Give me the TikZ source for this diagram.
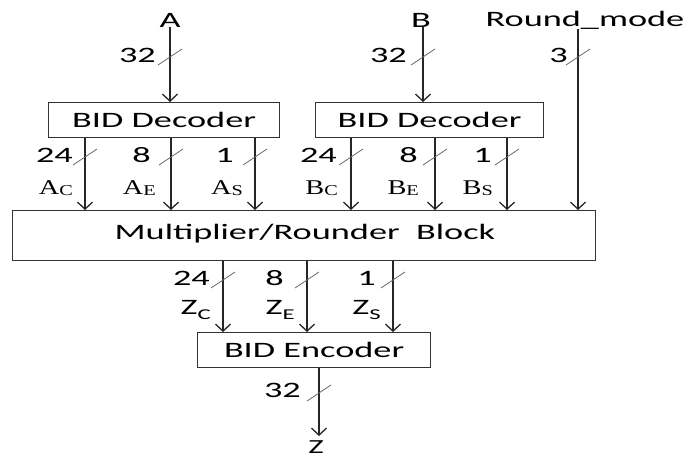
\documentclass[tikz,border=0pt]{standalone}
\usepackage{fontspec}
\setmainfont{Carlito}[FakeStretch=1.65]
\newfontfamily\lblfont{Liberation Serif}[FakeStretch=1.35]
\usetikzlibrary{arrows.meta}
\begin{document}
\begin{tikzpicture}[x=1pt,y=-1pt,
  font=\fontsize{22}{26}\selectfont,
  blk/.style={draw=black!80,line width=1.2pt,minimum height=35pt,inner sep=0pt,anchor=north west},
  sig/.style={draw=black!85,line width=1.3pt,-{Straight Barb[length=7pt,width=15pt,line width=1.3pt]}},
  busslash/.style={draw=black!60,line width=0.8pt},
  io/.style={inner sep=0pt},
  width/.style={inner sep=0pt,anchor=east},
  sublbl/.style={inner sep=0pt,anchor=east,font=\lblfont\fontsize{21}{24}\selectfont},
  zlbl/.style={inner sep=0pt,anchor=east}]
\useasboundingbox (0,0) rectangle (693,458);

% blocks
\node[blk,minimum width=231pt] (decA) at (48,102) {};
\node at (decA.center) {BID Decoder};
\node[blk,minimum width=228pt] (decB) at (315,102) {};
\node at (decB.center) {BID Decoder};
\node[blk,minimum width=583pt,minimum height=50pt] (mult) at (12,210) {};
\node at (305,234) {Multiplier/Rounder\ \ Block};
\node[blk,minimum width=233pt] (enc) at (197,332) {};
\node at (enc.center) {BID Encoder};

% primary inputs and output
\node[io] (inA) at (170,20) {A};
\node[io] (inB) at (421,20) {B};
\node[io] (inR) at (585,20) {Round\_mode};
\node[io,anchor=north,font=\fontsize{20}{24}\selectfont] (outZ) at (316,440) {Z};

\coordinate (xA) at (170,0);
\coordinate (xB) at (423,0);
\coordinate (xR) at (578,0);

\draw[sig] (inA.south -| xA) -- (decA.north -| xA);
\draw[sig] (inB.south -| xB) -- (decB.north -| xB);
\draw[sig] (inR.south -| xR) -- (mult.north -| xR);

% decoder A outputs
\foreach \x in {85,171,255}{
  \draw[sig] (decA.south -| \x,0) -- (mult.north -| \x,0);
}
% decoder B outputs
\foreach \x in {351,435,507}{
  \draw[sig] (decB.south -| \x,0) -- (mult.north -| \x,0);
}
% multiplier outputs
\foreach \x in {223,307,393}{
  \draw[sig] (mult.south -| \x,0) -- (enc.north -| \x,0);
}
% encoder output
\coordinate (xZ) at (319,0);
\draw[sig,shorten >=4pt] (enc.south -| xZ) -- (outZ.north -| xZ);

% bus width slashes
\foreach \x/\y in {170/57,423/57,578/57,
                   85/157,171/157,255/157,351/157,435/157,507/157,
                   223/280,307/280,393/280,319/393}{
  \draw[busslash] (\x-12,\y+8) -- (\x+12,\y-8);
}

% bus widths
\node[width] at (156,55) {32};
\node[width] at (407,55) {32};
\node[width] at (568,55) {3};
\node[width] at (73,155) {24};
\node[width] at (151,155) {8};
\node[width] at (234,155) {1};
\node[width] at (337,155) {24};
\node[width] at (418,155) {8};
\node[width] at (492,155) {1};
\node[width] at (210,278) {24};
\node[width] at (284,278) {8};
\node[width] at (376,278) {1};
\node[width] at (301,390) {32};

% field names
\node[sublbl] at (73,188) {A\raisebox{-1pt}{\fontsize{15}{16}\selectfont C}};
\node[sublbl] at (156,188) {A\raisebox{-1pt}{\fontsize{15}{16}\selectfont E}};
\node[sublbl] at (243,188) {A\raisebox{-1pt}{\fontsize{15}{16}\selectfont S}};
\node[sublbl] at (338,188) {B\raisebox{-1pt}{\fontsize{15}{16}\selectfont C}};
\node[sublbl] at (419,188) {B\raisebox{-1pt}{\fontsize{15}{16}\selectfont E}};
\node[sublbl] at (493,188) {B\raisebox{-1pt}{\fontsize{15}{16}\selectfont S}};
\node[zlbl] at (211,310) {Z\raisebox{-5pt}{\fontsize{15}{16}\selectfont C}};
\node[zlbl] at (295,310) {Z\raisebox{-5pt}{\fontsize{15}{16}\selectfont E}};
\node[zlbl] at (381,310) {Z\raisebox{-5pt}{\fontsize{15}{16}\selectfont S}};
\end{tikzpicture}
\end{document}
